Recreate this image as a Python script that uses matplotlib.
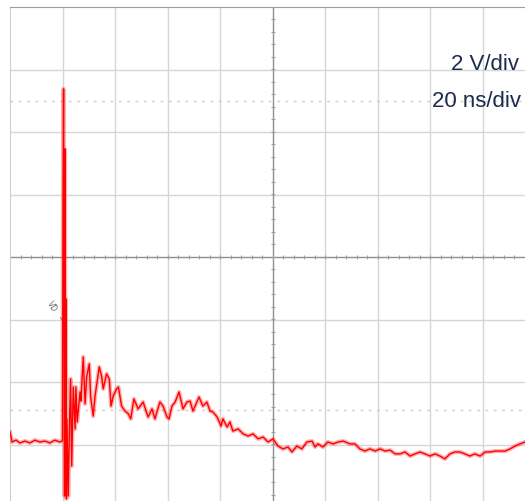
import numpy as np
import matplotlib
matplotlib.use('Agg')
from matplotlib import pyplot as plt

#scope settings
vdiv = 2 #V per division
tdiv = 20 #ns per division
ndivx = 10
ndivy = 8

#trace, time in ns and voltage in V
t_ns = [-100.0,-99.2,-97.7,-96.2,-94.3,-92.4,-90.5,-88.6,-86.7,-84.8,-82.9,-81.0,-80.2,
        -80.0,-79.8,-79.6,-79.4,-79.2,-79.05,-78.9,-78.7,-78.5,-78.3,-77.8,-77.3,-76.9,-76.5,
        -75.9,-75.2,-74.9,-74.4,-73.3,-73.0,-72.1,-71.4,-70.8,-69.8,-69.3,-68.3,-67.6,-66.0,
        -65.1,-64.5,-63.2,-62.2,-61.5,-60.7,-59.4,-58.7,-57.5,-56.2,-54.9,-54.0,-52.8,-51.2,
        -49.3,-47.4,-45.9,-44.8,-42.9,-41.7,-40.2,-39.4,-38.3,-37.1,-35.6,-34.1,-32.6,-31.4,
        -30.3,-28.8,-28.0,-26.5,-25.0,-23.8,-22.7,-21.1,-19.6,-18.9,-17.3,-16.2,-15.1,-13.1,
        -11.2,-9.3,-7.4,-5.5,-3.6,-1.7,0.2,2.1,4.0,5.9,7.4,9.3,11.2,13.1,15.1,16.2,17.3,19.2,
        21.1,23.1,25.0,26.9,29.5,31.4,33.3,35.2,37.1,39.1,41.0,42.9,44.8,46.7,48.6,50.5,52.4,
        54.3,56.2,58.1,60.0,61.9,63.8,65.7,67.6,69.5,71.4,73.3,75.2,77.1,79.1,81.0,82.9,84.8,
        86.7,88.6,90.5,92.4,94.3,96.2]
v_V = [-5.60,-5.92,-5.86,-5.95,-5.89,-5.95,-5.86,-5.92,-5.89,-5.95,-5.86,-5.92,-5.89,
       -5.89,1.86,5.38,-1.34,-7.65,3.46,-7.14,-1.34,-7.74,-5.18,-7.65,-5.18,-3.90,-6.69,
       -4.16,-5.50,-4.16,-5.28,-4.32,-4.61,-3.20,-4.70,-3.84,-3.42,-4.45,-5.09,-4.45,-3.52,
       -3.81,-4.22,-3.74,-3.90,-4.77,-4.45,-4.22,-4.16,-4.77,-4.93,-5.02,-5.18,-4.54,-4.86,
       -4.64,-5.12,-4.86,-5.18,-4.64,-4.77,-5.12,-5.18,-4.77,-4.64,-4.32,-4.86,-4.64,-4.61,
       -4.93,-4.64,-4.48,-4.77,-4.64,-4.93,-4.96,-5.12,-5.41,-5.18,-5.44,-5.28,-5.57,-5.50,
       -5.66,-5.73,-5.66,-5.82,-5.76,-5.92,-5.82,-6.05,-6.14,-6.08,-6.24,-6.05,-6.14,-5.92,
       -5.89,-6.08,-5.98,-6.08,-5.92,-5.98,-5.92,-5.89,-5.98,-5.98,-6.14,-6.21,-6.14,-6.21,
       -6.14,-6.21,-6.18,-6.30,-6.30,-6.24,-6.37,-6.30,-6.24,-6.30,-6.37,-6.30,-6.37,-6.46,
       -6.30,-6.24,-6.24,-6.30,-6.37,-6.30,-6.37,-6.24,-6.24,-6.21,-6.21,-6.21,-6.14,-6.05,
       -5.98,-5.92]

#cursor levels (dotted)
cursor_V = [5.0,-4.9]

labels = ['2 V/div','20 ns/div']
marker_label = 'VD'

xmax = ndivx*tdiv/2.
ymax = ndivy*vdiv/2.

fig = plt.figure(figsize=(5.25,5.02),dpi=100)
ax = fig.add_axes([10/525.,-6/502.,1.0,500/502.])
ax.set_xlim(-xmax,xmax)
ax.set_ylim(-ymax,ymax)
ax.set_xticks([])
ax.set_yticks([])
for s in ['left','right','bottom']:
    ax.spines[s].set_color('#cfcfcf')
ax.spines['top'].set_color('#9c9c9c')

#graticule
gcol = '#d6d6d6'
for xv in np.arange(-xmax+tdiv,xmax,tdiv):
    if xv != 0:
        ax.axvline(xv,color=gcol,lw=1,zorder=1)
for yv in np.arange(-ymax+vdiv,ymax,vdiv):
    if yv != 0:
        ax.axhline(yv,color=gcol,lw=1,zorder=1)
ccol = '#8f8f8f'
ax.axvline(0,color=ccol,lw=1,zorder=2)
ax.axhline(0,color=ccol,lw=1,zorder=2)
#minor ticks on the centre lines
mx = np.arange(-xmax,xmax+0.01,tdiv/5.)
my = np.arange(-ymax,ymax+0.01,vdiv/5.)
ax.plot(mx,np.zeros(len(mx)),'|',color='#a0a0a0',ms=3,mew=0.8,zorder=2)
ax.plot(np.zeros(len(my)),my,'_',color='#a0a0a0',ms=3,mew=0.8,zorder=2)

for cv in cursor_V:
    ax.axhline(cv,color='#cdcdcd',lw=1,ls=(0,(2,4)),zorder=1)

#trace
ax.plot(t_ns,v_V,color='#ff2020',lw=3.0,alpha=0.35,zorder=3)
ax.plot(t_ns,v_V,color='#ff0000',lw=1.0,zorder=4)

ax.annotate(marker_label,xy=(-79.8,-2.05),xytext=(-84.0,-1.55),fontsize=5.5,color='#666666',
            rotation=-60,ha='center',va='center',
            arrowprops=dict(arrowstyle='-',color='#777777',lw=0.8,shrinkA=2,shrinkB=0))

fig.text(519/525.,1-70/502.,labels[0],ha='right',va='baseline',fontsize=16,
         color='#1c2b4b',family='Liberation Sans')
fig.text(521/525.,1-107/502.,labels[1],ha='right',va='baseline',fontsize=16,
         color='#1c2b4b',family='Liberation Sans')

fig.savefig('out.png',dpi=100)
